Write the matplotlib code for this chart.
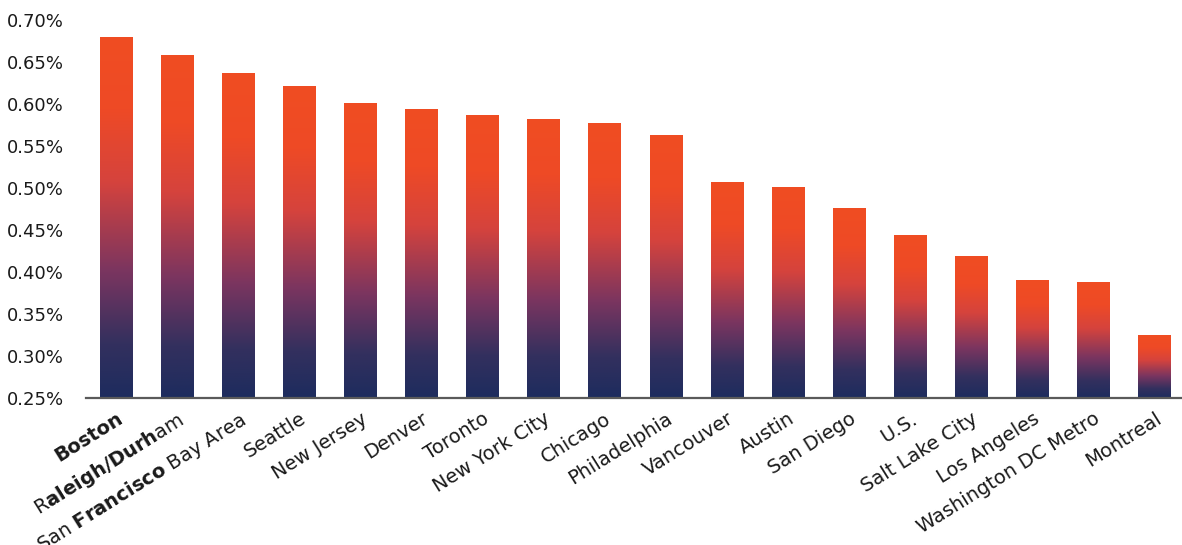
import numpy as np
import matplotlib.pyplot as plt
from matplotlib.colors import LinearSegmentedColormap
from matplotlib.ticker import FuncFormatter

cities = ["Boston", "R$\\mathbf{aleigh/Durh}$am", "San $\\mathbf{Francisco}$ Bay Area",
          "Seattle", "New Jersey", "Denver", "Toronto", "New York City", "Chicago",
          "Philadelphia", "Vancouver", "Austin", "San Diego", "U.S.", "Salt Lake City",
          "Los Angeles", "Washington DC Metro", "Montreal"]
rates = [0.679, 0.658, 0.636, 0.621, 0.601, 0.594, 0.586, 0.582, 0.577, 0.562,
         0.506, 0.500, 0.475, 0.444, 0.418, 0.390, 0.388, 0.325]
yticks = [0.25, 0.30, 0.35, 0.40, 0.45, 0.50, 0.55, 0.60, 0.65, 0.70]

base = 0.25

# bottom -> top gradient used inside each bar
grad_cmap = LinearSegmentedColormap.from_list(
    "bars", [(0.0, "#1d2c5e"), (0.15, "#33305e"), (0.35, "#7a3560"),
             (0.6, "#d5433d"), (0.8, "#ee4a26"), (1.0, "#f04d22")], N=1024)
grad = np.linspace(0, 1, 512).reshape(-1, 1)

plt.rcParams['font.family'] = ['DejaVu Sans']
plt.rcParams['mathtext.fontset'] = 'custom'
plt.rcParams['mathtext.rm'] = 'DejaVu Sans'
plt.rcParams['mathtext.bf'] = 'DejaVu Sans:bold'

fig = plt.figure(figsize=(11.82, 5.45), dpi=100)
ax = fig.add_axes([86 / 1182, 1 - 398 / 545, 1 - 86 / 1182, (398 - 20) / 545])

x = np.arange(len(cities))
bars = ax.bar(x, np.array(rates) - base, bottom=base, width=0.53,
              color='none', edgecolor='none')

for b in bars:
    x0 = b.get_x()
    x1 = x0 + b.get_width()
    y0 = b.get_y()
    y1 = y0 + b.get_height()
    ax.imshow(grad, cmap=grad_cmap, origin='lower', aspect='auto',
              extent=[x0, x1, y0, y1], interpolation='bilinear', zorder=2)

ax.set_xlim(-0.49, 17.45)
ax.set_ylim(base, 0.70)
ax.set_yticks(yticks)
ax.yaxis.set_major_formatter(FuncFormatter(lambda v, p: f"{v:.2f}%"))

ax.set_xticks(x)
ax.set_xticklabels(cities, rotation=32, ha='right', rotation_mode='anchor')
ax.get_xticklabels()[0].set_fontweight('bold')

ax.tick_params(axis='y', length=0, labelsize=13, colors='#1a1a1a', pad=16)
ax.tick_params(axis='x', length=0, labelsize=14, colors='#1a1a1a', pad=8)

for s in ['top', 'right', 'left']:
    ax.spines[s].set_visible(False)
ax.spines['bottom'].set_color('#5a5a5a')
ax.spines['bottom'].set_linewidth(1.6)
ax.spines['bottom'].set_zorder(3)

fig.savefig("out.png", dpi=100)
